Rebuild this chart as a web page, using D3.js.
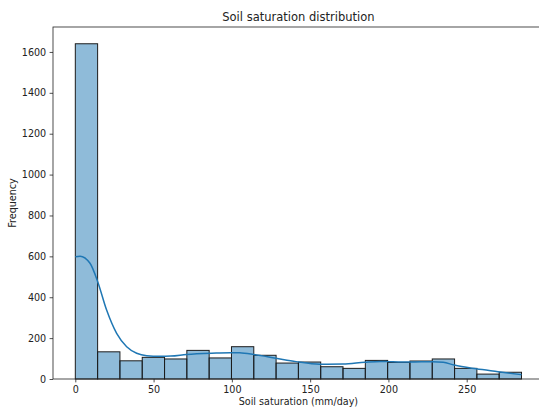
<!DOCTYPE html>
<html>
<head>
<meta charset="utf-8">
<script src="https://cdn.jsdelivr.net/npm/d3@7"></script>
<style>
  html, body { margin: 0; padding: 0; background: #fff; }
  svg { display: block; font-family: "DejaVu Sans", sans-serif; }
</style>
</head>
<body>
<svg id="chart" width="539" height="412"></svg>
<script>
// Histogram of soil saturation (mm/day): 20 equal-width bins from the data range
const dataMin = 0;
const dataMax = 285;
const binCounts = [1640, 133, 89, 106, 98, 140, 103, 158, 116, 78,
                   83, 60, 52, 91, 81, 88, 98, 52, 24, 33];

// Density curve, scaled to counts
const kdeX = [0, 3, 9.4, 14.3, 20, 26.4, 32.8, 39.2, 45.6, 54, 61, 71, 90, 99, 105,
              114, 128, 141, 156, 171, 185, 195, 200, 214, 228, 235, 242, 256, 270, 285];
const kdeY = [598, 601, 566, 476, 337, 223, 158, 126, 114, 111, 112, 120, 127, 129, 128,
              120, 102, 85, 72, 73, 82, 86, 85, 83, 85, 82, 68, 50, 36, 21];

const xTicks = [0, 50, 100, 150, 200, 250];
const yTicks = [0, 200, 400, 600, 800, 1000, 1200, 1400, 1600];

const svg = d3.select("#chart");
const plotLeft = 53, plotRight = 543.8, plotTop = 27, plotBottom = 379;

const binWidth = (dataMax - dataMin) / binCounts.length;
const bins = binCounts.map((c, i) => ({
  x0: dataMin + i * binWidth,
  x1: dataMin + (i + 1) * binWidth,
  count: c
}));

const pad = 0.05 * (dataMax - dataMin);
const x = d3.scaleLinear().domain([dataMin - pad, dataMax + pad]).range([plotLeft, plotRight]);
const yMax = d3.max(binCounts) * 1.05;
const y = d3.scaleLinear().domain([0, yMax]).range([plotBottom, plotTop]);

// bars
svg.append("g").selectAll("rect").data(bins).join("rect")
  .attr("x", d => x(d.x0))
  .attr("y", d => y(d.count))
  .attr("width", d => x(d.x1) - x(d.x0))
  .attr("height", d => y(0) - y(d.count))
  .attr("fill", "rgba(31,119,180,0.5)")
  .attr("stroke", "#1c1c1c")
  .attr("stroke-width", 1);

// density line
const kde = kdeX.map((v, i) => [v, kdeY[i]]);
svg.append("path")
  .datum(kde)
  .attr("fill", "none")
  .attr("stroke", "#1f77b4")
  .attr("stroke-width", 1.5)
  .attr("d", d3.line().x(d => x(d[0])).y(d => y(d[1])).curve(d3.curveMonotoneX));

// axes
const xAxis = svg.append("g")
  .attr("transform", `translate(0,${plotBottom})`)
  .call(d3.axisBottom(x).tickValues(xTicks).tickFormat(d3.format("d"))
    .tickSize(3.4).tickPadding(3.4).tickSizeOuter(0));
const yAxis = svg.append("g")
  .attr("transform", `translate(${plotLeft},0)`)
  .call(d3.axisLeft(y).tickValues(yTicks).tickFormat(d3.format("d"))
    .tickSize(3.4).tickPadding(3.4).tickSizeOuter(0));

[xAxis, yAxis].forEach(g => {
  g.select(".domain").remove();
  g.selectAll(".tick line").attr("stroke", "#222").attr("stroke-width", 0.8);
  g.selectAll(".tick text")
    .attr("fill", "#222")
    .style("font-size", "9.6px")
    .style("font-family", "'DejaVu Sans', sans-serif");
});

// frame
svg.append("rect")
  .attr("x", plotLeft).attr("y", plotTop)
  .attr("width", plotRight - plotLeft).attr("height", plotBottom - plotTop)
  .attr("fill", "none")
  .attr("stroke", "#222")
  .attr("stroke-width", 0.8);

// labels
svg.append("text")
  .attr("x", (plotLeft + plotRight) / 2).attr("y", 21)
  .attr("text-anchor", "middle")
  .attr("fill", "#222")
  .style("font-size", "11.5px")
  .text("Soil saturation distribution");

svg.append("text")
  .attr("x", (plotLeft + plotRight) / 2).attr("y", 405)
  .attr("text-anchor", "middle")
  .attr("fill", "#222")
  .style("font-size", "9.6px")
  .text("Soil saturation (mm/day)");

svg.append("text")
  .attr("transform", `translate(16,${(plotTop + plotBottom) / 2}) rotate(-90)`)
  .attr("text-anchor", "middle")
  .attr("fill", "#222")
  .style("font-size", "9.6px")
  .text("Frequency");
</script>
</body>
</html>
